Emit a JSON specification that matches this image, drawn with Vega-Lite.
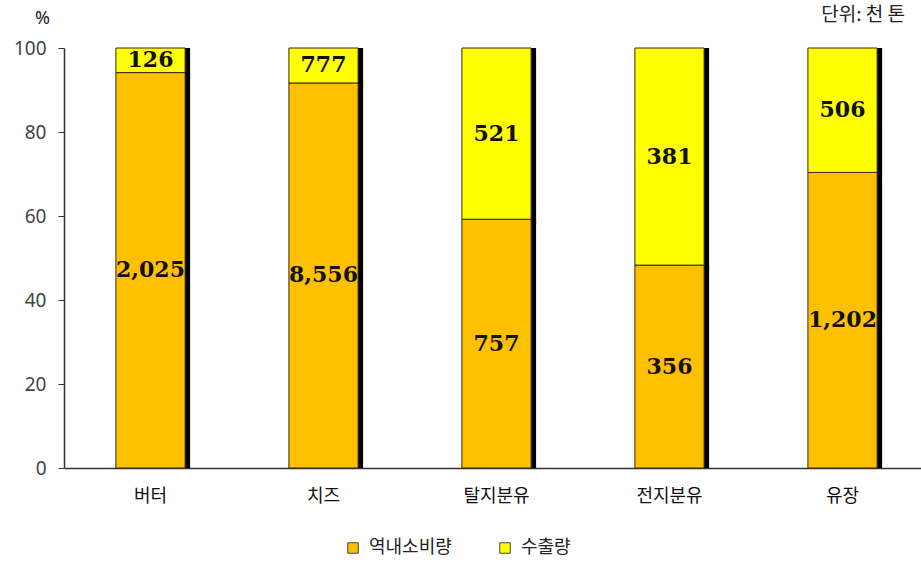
{
  "$schema": "https://vega.github.io/schema/vega-lite/v6.json",
  "autosize": "none",
  "width": 865,
  "height": 420,
  "padding": {"left": 64, "top": 48, "right": 0, "bottom": 96},
  "background": "white",
  "config": {"view": {"stroke": null}},
  "title": {
    "text": "단위: 천 톤",
    "anchor": "end",
    "frame": "group",
    "orient": "top",
    "fontSize": 19,
    "fontWeight": "normal",
    "font": "Noto Sans CJK KR",
    "color": "#222222",
    "dx": -24,
    "offset": -16
  },
  "data": {
    "values": [
      {"cat": "버터", "type": "역내소비량", "value": 2025},
      {"cat": "버터", "type": "수출량", "value": 126},
      {"cat": "치즈", "type": "역내소비량", "value": 8556},
      {"cat": "치즈", "type": "수출량", "value": 777},
      {"cat": "탈지분유", "type": "역내소비량", "value": 757},
      {"cat": "탈지분유", "type": "수출량", "value": 521},
      {"cat": "전지분유", "type": "역내소비량", "value": 356},
      {"cat": "전지분유", "type": "수출량", "value": 381},
      {"cat": "유장", "type": "역내소비량", "value": 1202},
      {"cat": "유장", "type": "수출량", "value": 506}
    ]
  },
  "transform": [
    {"stack": "value", "groupby": ["cat"], "offset": "normalize", "sort": [{"field": "type", "order": "descending"}], "as": ["y0", "y1"]},
    {"calculate": "(datum.y0 + datum.y1) / 2", "as": "ymid"}
  ],
  "encoding": {
    "x": {
      "field": "cat",
      "type": "nominal",
      "sort": ["버터", "치즈", "탈지분유", "전지분유", "유장"],
      "scale": {"paddingInner": 0.6, "paddingOuter": 0.3},
      "axis": {
        "title": null,
        "labelAngle": 0,
        "ticks": false,
        "labelPadding": 19,
        "labelFontSize": 18,
        "labelFont": "Noto Sans CJK KR",
        "labelColor": "#111111",
        "domainColor": "#333333",
        "domainWidth": 1.5
      }
    }
  },
  "layer": [
    {
      "mark": {"type": "bar", "color": "#000000", "xOffset": 5, "yOffset": 5, "clip": true},
      "encoding": {
        "y": {"field": "y0", "type": "quantitative", "scale": {"domain": [0, 1]}},
        "y2": {"field": "y1"}
      }
    },
    {
      "mark": {"type": "bar", "stroke": "#3a2a10", "strokeWidth": 1},
      "encoding": {
        "y": {
          "field": "y0",
          "type": "quantitative",
          "scale": {"domain": [0, 1]},
          "axis": {
            "values": [0, 0.2, 0.4, 0.6, 0.8, 1],
            "labelExpr": "format(datum.value * 100, 'd')",
            "grid": false,
            "title": "%",
            "titleAngle": 0,
            "titleX": -22,
            "titleY": -30,
            "titleAlign": "center",
            "titleBaseline": "middle",
            "titleFontSize": 18,
            "titleFontWeight": "normal",
            "titleFont": "Noto Sans",
            "titleColor": "#222222",
            "labelFontSize": 19,
            "labelFont": "Noto Sans",
            "labelColor": "#444444",
            "labelPadding": 12,
            "tickSize": 6,
            "tickColor": "#333333",
            "domainColor": "#333333",
            "domainWidth": 1.5
          }
        },
        "y2": {"field": "y1"},
        "color": {
          "field": "type",
          "type": "nominal",
          "scale": {"domain": ["역내소비량", "수출량"], "range": ["#FFC000", "#FFFF00"]},
          "legend": {
            "title": null,
            "orient": "none",
            "direction": "horizontal",
            "legendX": 280,
            "legendY": 491,
            "symbolType": "square",
            "symbolSize": 110,
            "symbolStrokeColor": "#444444",
            "symbolStrokeWidth": 1,
            "labelFontSize": 18,
            "labelFont": "Noto Sans CJK KR",
            "labelColor": "#222222",
            "labelOffset": 7,
            "columnPadding": 44
          }
        }
      }
    },
    {
      "mark": {"type": "text", "font": "DejaVu Serif", "fontWeight": "bold", "fontSize": 22, "color": "#111111", "baseline": "middle"},
      "encoding": {
        "y": {"field": "ymid", "type": "quantitative", "scale": {"domain": [0, 1]}},
        "text": {"field": "value", "type": "quantitative", "format": ","}
      }
    }
  ]
}
